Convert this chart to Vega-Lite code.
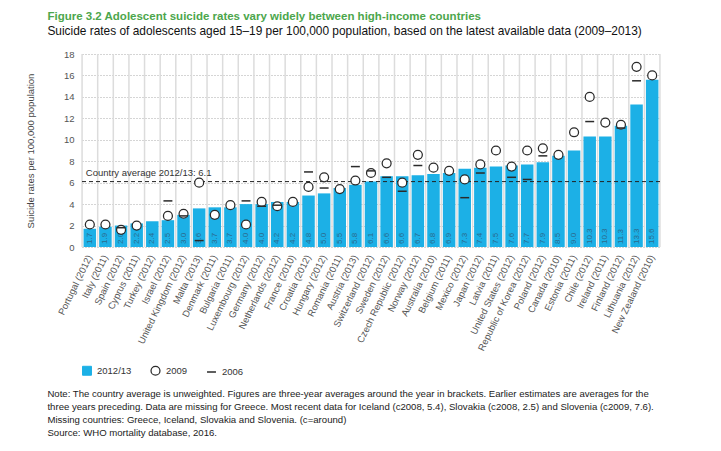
{
  "$schema": "https://vega.github.io/schema/vega-lite/v6.json",
  "padding": {"left": 25, "top": 10, "right": 10, "bottom": 10},
  "config": {
    "font": "Liberation Sans",
    "view": {"stroke": null}
  },
  "title": {
    "text": [
      "Note: The country average is unweighted. Figures are three-year averages around the year in brackets. Earlier estimates are averages for the",
      "three years preceding. Data are missing for Greece. Most recent data for Iceland (c2008, 5.4), Slovakia (c2008, 2.5) and Slovenia (c2009, 7.6).",
      "Missing countries: Greece, Iceland, Slovakia and Slovenia. (c=around)",
      "Source: WHO mortality database, 2016."
    ],
    "orient": "bottom",
    "anchor": "start",
    "frame": "bounds",
    "fontSize": 9.6,
    "fontWeight": "normal",
    "color": "#222",
    "lineHeight": 13,
    "offset": 11,
    "dx": 22
  },
  "data": {
    "values": [
      {"country": "Portugal (2012)", "2012/13": 1.7, "2009": 2.1, "2006": null},
      {"country": "Italy (2011)", "2012/13": 1.9, "2009": 2.1, "2006": null},
      {"country": "Spain (2012)", "2012/13": 2.0, "2009": 1.6, "2006": 1.8},
      {"country": "Cyprus (2011)", "2012/13": 2.2, "2009": 2.0, "2006": null},
      {"country": "Turkey (2012)", "2012/13": 2.4, "2009": null, "2006": null},
      {"country": "Israel (2012)", "2012/13": 2.5, "2009": 2.9, "2006": 4.3},
      {"country": "United Kingdom (2012)", "2012/13": 3.0, "2009": 3.1, "2006": 2.9},
      {"country": "Malta (2013)", "2012/13": 3.6, "2009": 6.0, "2006": 0.6},
      {"country": "Denmark (2011)", "2012/13": 3.7, "2009": 3.0, "2006": null},
      {"country": "Bulgaria (2011)", "2012/13": 3.7, "2009": 3.9, "2006": null},
      {"country": "Luxembourg (2012)", "2012/13": 4.0, "2009": 2.1, "2006": 4.3},
      {"country": "Germany (2012)", "2012/13": 4.0, "2009": 4.2, "2006": 3.8},
      {"country": "Netherlands (2012)", "2012/13": 4.2, "2009": 3.8, "2006": 3.9},
      {"country": "France (2010)", "2012/13": 4.2, "2009": 4.2, "2006": null},
      {"country": "Croatia (2012)", "2012/13": 4.8, "2009": 5.6, "2006": 7.0},
      {"country": "Hungary (2012)", "2012/13": 5.0, "2009": 6.5, "2006": 5.5},
      {"country": "Romania (2011)", "2012/13": 5.5, "2009": 5.4, "2006": null},
      {"country": "Austria (2013)", "2012/13": 5.8, "2009": 6.2, "2006": 7.5},
      {"country": "Switzerland (2012)", "2012/13": 6.1, "2009": 6.9, "2006": 7.1},
      {"country": "Sweden (2012)", "2012/13": 6.6, "2009": 7.8, "2006": 6.5},
      {"country": "Czech Republic (2012)", "2012/13": 6.6, "2009": 6.0, "2006": 5.2},
      {"country": "Norway (2012)", "2012/13": 6.7, "2009": 8.6, "2006": 7.6},
      {"country": "Australia (2010)", "2012/13": 6.8, "2009": 7.4, "2006": null},
      {"country": "Belgium (2011)", "2012/13": 6.9, "2009": 7.1, "2006": null},
      {"country": "Mexico (2012)", "2012/13": 7.3, "2009": 6.3, "2006": 4.6},
      {"country": "Japan (2012)", "2012/13": 7.4, "2009": 7.7, "2006": 6.9},
      {"country": "Latvia (2011)", "2012/13": 7.5, "2009": 9.0, "2006": null},
      {"country": "United States (2012)", "2012/13": 7.6, "2009": 7.5, "2006": 6.5},
      {"country": "Republic of Korea (2012)", "2012/13": 7.7, "2009": 9.0, "2006": 6.3},
      {"country": "Poland (2012)", "2012/13": 7.9, "2009": 9.2, "2006": 8.5},
      {"country": "Canada (2010)", "2012/13": 8.5, "2009": 8.6, "2006": null},
      {"country": "Estonia (2011)", "2012/13": 9.0, "2009": 10.7, "2006": null},
      {"country": "Chile (2012)", "2012/13": 10.3, "2009": 14.0, "2006": 11.7},
      {"country": "Ireland (2011)", "2012/13": 10.3, "2009": 11.6, "2006": null},
      {"country": "Finland (2012)", "2012/13": 11.3, "2009": 11.4, "2006": 11.1},
      {"country": "Lithuania (2012)", "2012/13": 13.3, "2009": 16.8, "2006": 15.5},
      {"country": "New Zealand (2010)", "2012/13": 15.6, "2009": 16.0, "2006": null}
    ]
  },
  "vconcat": [
    {
      "width": 578,
      "height": 193,
      "title": {
        "text": "Figure 3.2  Adolescent suicide rates vary widely between high-income countries",
        "subtitle": "Suicide rates of adolescents aged 15–19 per 100,000 population, based on the latest available data (2009–2013)",
        "anchor": "start",
        "frame": "bounds",
        "dx": 22,
        "fontSize": 11.5,
        "fontWeight": "bold",
        "color": "#4CA64C",
        "subtitleFontSize": 11.9,
        "subtitleColor": "#111",
        "subtitlePadding": 4,
        "offset": 12
      },
      "layer": [
        {
          "mark": {"type": "rule", "color": "#DCDCDC", "strokeWidth": 1.5, "xOffset": -1.5},
          "encoding": {
            "x": {
              "field": "country", "type": "nominal", "sort": null, "bandPosition": 0,
              "scale": {"paddingInner": 0.2, "paddingOuter": 0.1},
              "axis": {"title": null, "labelAngle": -64, "labelAlign": "right", "labelBaseline": "middle", "labelPadding": 8, "ticks": false, "domain": false, "grid": false, "labelFontSize": 9.5, "labelColor": "#555"}
            }
          }
        },
        {
          "transform": [{"filter": "datum.country == 'New Zealand (2010)'"}],
          "mark": {"type": "rule", "color": "#DCDCDC", "strokeWidth": 1.5, "xOffset": 1.5},
          "encoding": {
            "x": {"field": "country", "type": "nominal", "sort": null, "bandPosition": 1}
          }
        },
        {
          "transform": [
            {"fold": ["2012/13", "2009", "2006"], "as": ["series", "value"]},
            {"filter": "datum.series == '2012/13'"}
          ],
          "mark": {"type": "bar"},
          "encoding": {
            "x": {"field": "country", "type": "nominal", "sort": null},
            "y": {
              "field": "value", "type": "quantitative",
              "scale": {"domain": [0, 18]},
              "axis": {"title": "Suicide rates per 100,000 population", "values": [0, 2, 4, 6, 8, 10, 12, 14, 16, 18], "grid": true, "gridDash": [1, 2], "gridColor": "#AAAAAA", "domain": false, "ticks": false, "labelPadding": 8, "labelFontSize": 9.5, "labelColor": "#555", "titleFontSize": 9.5, "titleFontWeight": "normal", "titleColor": "#444", "titlePadding": 28}
            },
            "fill": {
              "field": "series", "type": "nominal",
              "scale": {"domain": ["2012/13", "2009", "2006"], "range": ["#1CB0E6", "#FFFFFF", "#2A2A2A"]},
              "legend": {"title": null, "orient": "none", "legendX": 0, "legendY": 311, "direction": "horizontal", "labelFontSize": 9.5, "labelColor": "#333", "symbolSize": 80, "columnPadding": 16, "labelOffset": 5}
            }
          }
        },
        {
          "transform": [
            {"fold": ["2012/13", "2009", "2006"], "as": ["series", "value"]},
            {"filter": "datum.series == '2012/13'"}
          ],
          "mark": {"type": "text", "angle": 270, "align": "left", "baseline": "middle", "dx": 3, "fontSize": 8, "color": "#2B6A8C"},
          "encoding": {
            "x": {"field": "country", "type": "nominal", "sort": null},
            "y": {
              "datum": 0, "type": "quantitative",
              "axis": {"title": "Suicide rates per 100,000 population", "values": [0, 2, 4, 6, 8, 10, 12, 14, 16, 18], "grid": true, "gridDash": [1, 2], "gridColor": "#AAAAAA", "domain": false, "ticks": false, "labelPadding": 8, "labelFontSize": 9.5, "labelColor": "#555", "titleFontSize": 9.5, "titleFontWeight": "normal", "titleColor": "#444", "titlePadding": 28}
            },
            "text": {"field": "value", "type": "quantitative", "format": ".1f"}
          }
        },
        {
          "data": {"values": [{"label": "Country average 2012/13: 6.1", "avg": 6.1}]},
          "mark": {"type": "rule", "color": "#222", "strokeWidth": 1, "strokeDash": [4, 3]},
          "encoding": {
            "y": {
              "field": "avg", "type": "quantitative",
              "axis": {"title": "Suicide rates per 100,000 population", "values": [0, 2, 4, 6, 8, 10, 12, 14, 16, 18], "grid": true, "gridDash": [1, 2], "gridColor": "#AAAAAA", "domain": false, "ticks": false, "labelPadding": 8, "labelFontSize": 9.5, "labelColor": "#555", "titleFontSize": 9.5, "titleFontWeight": "normal", "titleColor": "#444", "titlePadding": 28}
            }
          }
        },
        {
          "data": {"values": [{"label": "Country average 2012/13: 6.1", "avg": 6.1}]},
          "mark": {"type": "text", "align": "left", "baseline": "bottom", "dx": -4, "dy": -4, "fontSize": 9.5, "color": "#333"},
          "encoding": {
            "x": {"datum": "Portugal (2012)", "type": "nominal"},
            "y": {
              "field": "avg", "type": "quantitative",
              "axis": {"title": "Suicide rates per 100,000 population", "values": [0, 2, 4, 6, 8, 10, 12, 14, 16, 18], "grid": true, "gridDash": [1, 2], "gridColor": "#AAAAAA", "domain": false, "ticks": false, "labelPadding": 8, "labelFontSize": 9.5, "labelColor": "#555", "titleFontSize": 9.5, "titleFontWeight": "normal", "titleColor": "#444", "titlePadding": 28}
            },
            "text": {"field": "label"}
          }
        },
        {
          "transform": [
            {"fold": ["2012/13", "2009", "2006"], "as": ["series", "value"]},
            {"filter": "datum.series != '2012/13' && isValid(datum.value)"}
          ],
          "mark": {"type": "point", "filled": true, "size": 80, "opacity": 1},
          "encoding": {
            "x": {"field": "country", "type": "nominal", "sort": null},
            "y": {
              "field": "value", "type": "quantitative",
              "axis": {"title": "Suicide rates per 100,000 population", "values": [0, 2, 4, 6, 8, 10, 12, 14, 16, 18], "grid": true, "gridDash": [1, 2], "gridColor": "#AAAAAA", "domain": false, "ticks": false, "labelPadding": 8, "labelFontSize": 9.5, "labelColor": "#555", "titleFontSize": 9.5, "titleFontWeight": "normal", "titleColor": "#444", "titlePadding": 28}
            },
            "fill": {
              "field": "series", "type": "nominal",
              "scale": {"domain": ["2012/13", "2009", "2006"], "range": ["#1CB0E6", "#FFFFFF", "#2A2A2A"]},
              "legend": {"title": null, "orient": "none", "legendX": 0, "legendY": 311, "direction": "horizontal", "labelFontSize": 9.5, "labelColor": "#333", "symbolSize": 80, "columnPadding": 16, "labelOffset": 5}
            },
            "stroke": {
              "field": "series", "type": "nominal",
              "scale": {"domain": ["2012/13", "2009", "2006"], "range": ["#1CB0E6", "#2A2A2A", "#2A2A2A"]},
              "legend": {"title": null, "orient": "none", "legendX": 0, "legendY": 311, "direction": "horizontal", "labelFontSize": 9.5, "labelColor": "#333", "symbolSize": 80, "columnPadding": 16, "labelOffset": 5}
            },
            "shape": {
              "field": "series", "type": "nominal",
              "scale": {"domain": ["2012/13", "2009", "2006"], "range": ["square", "circle", "M-1,0H1"]},
              "legend": {"title": null, "orient": "none", "legendX": 0, "legendY": 311, "direction": "horizontal", "labelFontSize": 9.5, "labelColor": "#333", "symbolSize": 80, "columnPadding": 16, "labelOffset": 5}
            },
            "strokeWidth": {
              "field": "series", "type": "nominal",
              "scale": {"domain": ["2012/13", "2009", "2006"], "range": [1, 1.5, 2.5]},
              "legend": {"title": null, "orient": "none", "legendX": 0, "legendY": 311, "direction": "horizontal", "labelFontSize": 9.5, "labelColor": "#333", "symbolSize": 80, "columnPadding": 16, "labelOffset": 5}
            }
          }
        }
      ]
    }
  ]
}
